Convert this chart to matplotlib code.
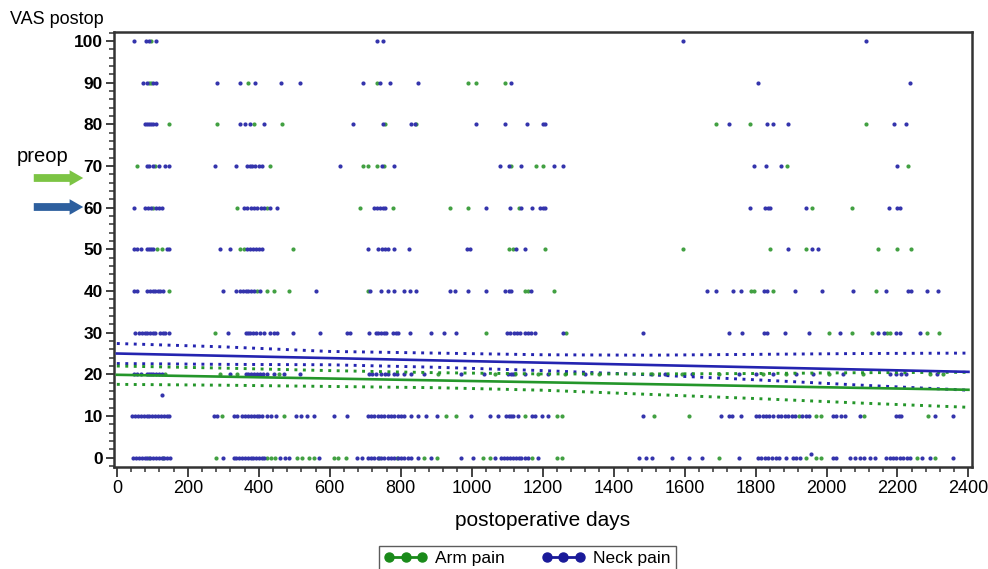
import numpy as np
import matplotlib
matplotlib.use('Agg')
import matplotlib.pyplot as plt
from matplotlib.lines import Line2D
from matplotlib.patches import FancyArrowPatch
from matplotlib.ticker import MultipleLocator

plt.rcParams['font.family'] = ['Liberation Sans', 'DejaVu Sans']

# VAS postop values, one list of days per VAS level
neck_100 = [49, 82, 91, 110, 732, 751, 1595, 2110]
arm_100 = [97]
neck_90 = [74, 86, 103, 110, 282, 348, 388, 464, 516, 695, 742, 770, 848, 1110, 1807, 2235]
arm_90 = [91, 97, 369, 732, 990, 1012, 1095]
neck_80 = [78, 86, 91, 97, 103, 110, 348, 361, 374, 416, 665, 749, 829, 839, 1012, 1095,
           1156, 1201, 1208, 1724, 1831, 1850, 1892, 2191, 2224]
arm_80 = [146, 282, 386, 465, 756, 844, 1689, 1784, 2110]
neck_70 = [84, 91, 101, 120, 136, 148, 278, 337, 367, 374, 382, 390, 401, 410, 629, 746, 780,
           1079, 1105, 1138, 1231, 1258, 1797, 1829, 1872, 2199]
arm_70 = [57, 107, 431, 695, 707, 733, 752, 1112, 1180, 1202, 1888, 2230]
neck_60 = [48, 80, 88, 95, 110, 118, 127, 358, 367, 377, 386, 396, 405, 414, 433, 450, 726, 733,
           741, 750, 757, 1041, 1107, 1140, 1171, 1193, 1201, 1208, 1784, 1827, 1835, 1840, 1942,
           2176, 2199, 2207]
arm_60 = [103, 339, 424, 684, 778, 940, 990, 1133, 1959, 2072]
neck_50 = [48, 56, 67, 84, 91, 97, 103, 141, 148, 291, 318, 367, 375, 384, 392, 401, 410, 708,
           735, 746, 756, 763, 780, 822, 988, 995, 1125, 1150, 1892, 1959, 1975]
arm_50 = [114, 127, 346, 358, 496, 1105, 1116, 1207, 1595, 1840, 1942, 2146, 2199, 2237]
neck_40 = [48, 56, 86, 93, 101, 108, 116, 123, 131, 299, 337, 346, 356, 363, 371, 378, 386, 403,
           561, 714, 744, 763, 782, 810, 825, 844, 940, 952, 990, 1041, 1094, 1105, 1112, 1167,
           1663, 1689, 1737, 1759, 1823, 1831, 1912, 1988, 2074, 2169, 2229, 2237, 2284, 2314]
arm_40 = [146, 395, 424, 442, 484, 707, 1150, 1159, 1231, 1788, 1795, 1850, 2140]
neck_30 = [52, 63, 71, 78, 86, 93, 101, 108, 122, 129, 137, 146, 312, 363, 371, 376, 384, 391,
           403, 416, 431, 442, 450, 497, 573, 650, 657, 710, 729, 737, 744, 752, 759, 778, 786,
           793, 826, 884, 923, 955, 1099, 1108, 1118, 1127, 1137, 1150, 1159, 1168, 1178, 1256,
           1482, 1725, 1763, 1823, 1831, 1882, 1950, 2038, 2146, 2163, 2197, 2207, 2263]
arm_30 = [278, 1041, 1265, 2008, 2071, 2127, 2171, 2178, 2284, 2316]
neck_20 = [48, 56, 67, 84, 91, 97, 103, 110, 118, 127, 318, 363, 371, 378, 386, 395, 403, 413,
           424, 442, 471, 516, 710, 720, 730, 745, 755, 765, 780, 790, 810, 829, 867, 971, 1036,
           1103, 1110, 1116, 1150, 1216, 1320, 1546, 1622, 1754, 1801, 1848, 1914, 1961, 2046,
           2180, 2195, 2210, 2225, 2310]
arm_20 = [135, 291, 340, 457, 905, 1065, 1122, 1188, 1263, 1358, 1509, 1593, 1697, 1820, 1886,
          2008, 2103, 2291, 2329]
neck_15 = [127]
neck_10 = [44, 52, 60, 68, 76, 84, 92, 100, 108, 116, 124, 132, 140, 148, 273, 282, 329, 340,
           353, 362, 370, 378, 386, 394, 402, 410, 424, 435, 448, 504, 518, 537, 556, 612, 650,
           707, 716, 726, 735, 745, 754, 763, 773, 782, 792, 801, 810, 829, 848, 872, 901, 999,
           1051, 1075, 1098, 1105, 1112, 1117, 1131, 1169, 1178, 1197, 1216, 1482, 1702, 1725,
           1735, 1758, 1801, 1810, 1820, 1829, 1838, 1848, 1862, 1872, 1882, 1892, 1902, 1912,
           1932, 1942, 1952, 2018, 2028, 2040, 2051, 2093, 2197, 2204, 2211, 2306, 2357]
arm_10 = [296, 471, 928, 957, 1150, 1240, 1254, 1513, 1612, 1922, 1971, 1985, 2107, 2287]
neck_1 = [1957]
neck_0 = [46, 54, 62, 70, 78, 86, 94, 102, 110, 118, 126, 134, 142, 150, 299, 329, 337, 345,
          353, 361, 369, 377, 385, 393, 401, 409, 414, 461, 473, 484, 570, 678, 692, 707, 716,
          726, 735, 745, 754, 763, 773, 782, 792, 801, 810, 820, 829, 848, 886, 971, 1004, 1065,
          1084, 1092, 1100, 1108, 1116, 1124, 1132, 1140, 1150, 1159, 1188, 1471, 1490, 1509,
          1565, 1612, 1650, 1754, 1806, 1816, 1826, 1836, 1846, 1857, 1867, 1886, 1905, 1914,
          1924, 2018, 2027, 2065, 2079, 2093, 2107, 2122, 2136, 2169, 2178, 2188, 2197, 2207,
          2216, 2226, 2235, 2268, 2291, 2357]
arm_0 = [90, 130, 280, 424, 435, 447, 509, 523, 541, 556, 612, 624, 645, 740, 790, 867, 903,
         1032, 1051, 1169, 1240, 1254, 1697, 1942, 1971, 1985, 2254, 2306]

neck_levels = [(100, neck_100), (90, neck_90), (80, neck_80), (70, neck_70), (60, neck_60),
               (50, neck_50), (40, neck_40), (30, neck_30), (20, neck_20), (15, neck_15),
               (10, neck_10), (1, neck_1), (0, neck_0)]
arm_levels = [(100, arm_100), (90, arm_90), (80, arm_80), (70, arm_70), (60, arm_60),
              (50, arm_50), (40, arm_40), (30, arm_30), (20, arm_20), (10, arm_10), (0, arm_0)]

# regression line and confidence band, read at these days
fit_days = [0, 300, 600, 900, 1200, 1500, 1800, 2100, 2400]
neck_fit = [25.0, 24.45, 23.9, 23.35, 22.8, 22.25, 21.7, 21.15, 20.6]
neck_upper = [27.4, 26.6, 25.5, 25.1, 24.7, 24.6, 24.8, 25.0, 25.1]
neck_lower = [22.6, 22.4, 22.3, 21.7, 20.9, 19.9, 18.7, 17.4, 16.2]
arm_fit = [19.9, 19.45, 19.0, 18.55, 18.1, 17.65, 17.2, 16.75, 16.3]
arm_upper = [22.0, 21.5, 20.9, 20.4, 20.1, 20.1, 20.2, 20.4, 20.5]
arm_lower = [17.6, 17.4, 17.1, 16.8, 16.2, 15.2, 14.2, 13.1, 12.1]

x_ticks = list(range(0, 2401, 200))
y_ticks = list(range(0, 101, 10))

BLUE = '#3434ac'
GREEN = '#42a042'
LBLUE = '#2424b0'
LGREEN = '#24962a'


def flatten(levels):
    xs, ys = [], []
    for v, days in levels:
        xs += days
        ys += [v] * len(days)
    return np.array(xs), np.array(ys)


neck_x, neck_y = flatten(neck_levels)
arm_x, arm_y = flatten(arm_levels)

fig = plt.figure(figsize=(9.88, 5.69), dpi=100)
ax = fig.add_axes([0.1154, 0.1787, 0.8684, 0.7656])

ax.scatter(arm_x, arm_y, s=9, color=GREEN, linewidths=0, zorder=3)
ax.scatter(neck_x, neck_y, s=9, color=BLUE, linewidths=0, zorder=3)

dots = (0, (1.0, 1.9))
ax.plot(fit_days, neck_upper, color=LBLUE, lw=2.1, ls=dots, zorder=4)
ax.plot(fit_days, neck_lower, color=LBLUE, lw=2.1, ls=dots, zorder=4)
ax.plot(fit_days, arm_upper, color=LGREEN, lw=2.1, ls=dots, zorder=4)
ax.plot(fit_days, arm_lower, color=LGREEN, lw=2.1, ls=dots, zorder=4)
ax.plot(fit_days, neck_fit, color=LBLUE, lw=1.9, zorder=5)
ax.plot(fit_days, arm_fit, color=LGREEN, lw=1.9, zorder=5)

ax.set_xlim(-8, 2410)
ax.set_ylim(-2.3, 102.2)
ax.set_xticks(x_ticks)
ax.set_yticks(y_ticks)
ax.xaxis.set_minor_locator(MultipleLocator(40))
ax.yaxis.set_minor_locator(MultipleLocator(2))
ax.tick_params(axis='both', which='major', direction='out', length=6, width=1.3,
               color='#333333', pad=2)
ax.tick_params(axis='x', which='major', labelsize=13, length=7)
ax.tick_params(axis='y', which='major', labelsize=12.5)
ax.tick_params(axis='both', which='minor', direction='out', length=3.5, width=1.1,
               color='#333333')
for lab in ax.get_yticklabels():
    lab.set_fontweight('bold')
for sp in ax.spines.values():
    sp.set_linewidth(1.8)
    sp.set_color('#333333')

ax.set_xlabel('postoperative days', fontsize=15, labelpad=10)

fig.text(10 / 988, 1 - 19 / 569, 'VAS postop', fontsize=13, va='center', ha='left')
fig.text(17 / 988, 1 - 157 / 569, 'preop', fontsize=14.5, va='center', ha='left')

for y_px, col in [(178, '#7cc444'), (207, '#2d5f9e')]:
    arr = FancyArrowPatch((31 / 988, 1 - y_px / 569), (86 / 988, 1 - y_px / 569),
                          transform=fig.transFigure,
                          arrowstyle='simple,head_length=0.7,head_width=0.8,tail_width=0.4',
                          mutation_scale=14, color=col, lw=0)
    fig.add_artist(arr)

handles = [Line2D([], [], color='#1a8a1a', lw=2, marker='o', markersize=6.5),
           Line2D([], [], color='#1a1a99', lw=2, marker='o', markersize=6.5)]
leg = fig.legend(handles, ['Arm pain', 'Neck pain'], ncol=2, loc='upper left',
                 bbox_to_anchor=(379 / 988, 1 - 546 / 569), borderaxespad=0,
                 numpoints=3, handlelength=2.5, handletextpad=0.45, columnspacing=2.1,
                 fontsize=12.5, fancybox=False, borderpad=0.3)
leg.get_frame().set_edgecolor('#333333')
leg.get_frame().set_linewidth(1.0)

fig.savefig('out.png', dpi=100)
